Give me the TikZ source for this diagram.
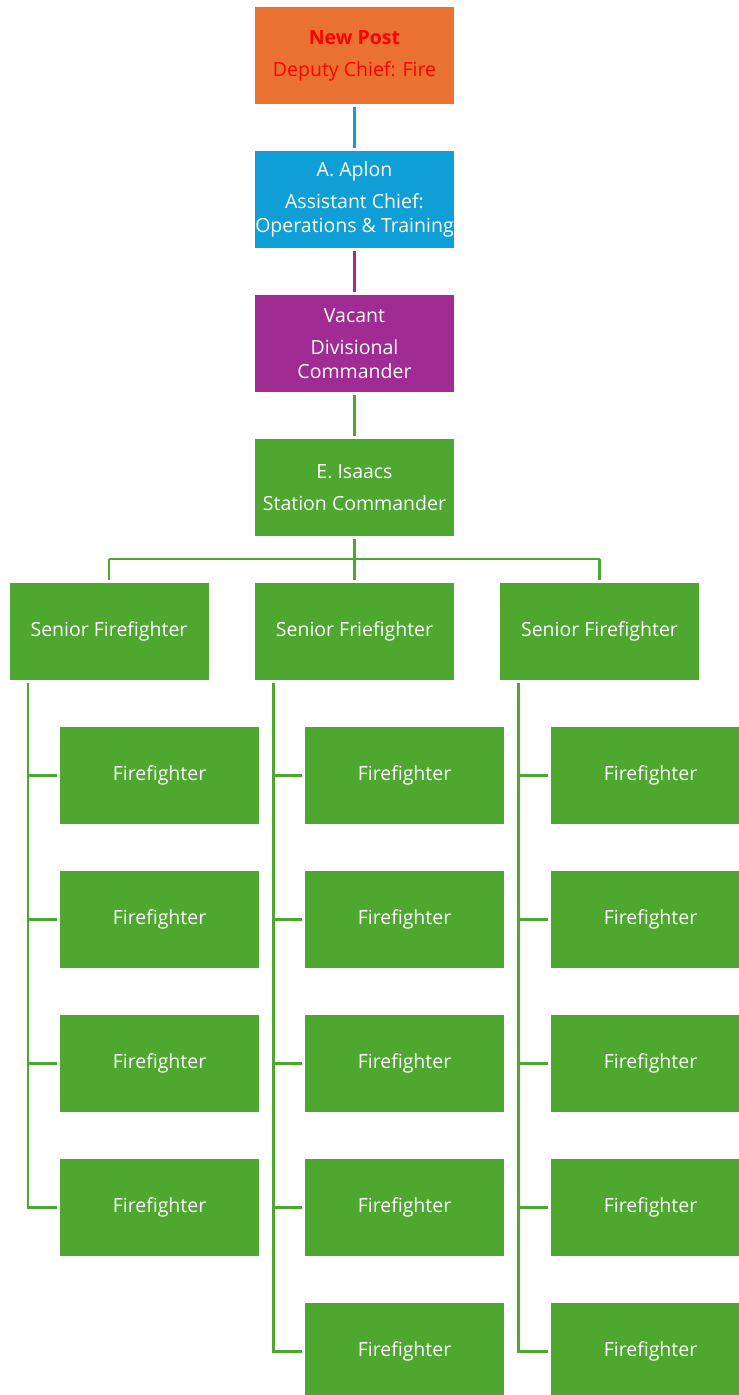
\documentclass[tikz,border=0pt]{standalone}
\usepackage{fontspec}
\setmainfont{Open Sans}
\definecolor{orgbox}{HTML}{E97132}
\definecolor{bluebox}{HTML}{0F9ED5}
\definecolor{purplebox}{HTML}{A02B93}
\definecolor{greenbox}{HTML}{4EA72E}
\definecolor{redtext}{HTML}{FF0000}
\begin{document}
\begin{tikzpicture}[x=1pt,y=-1pt,
  box/.style={draw=none, minimum width=199pt, minimum height=97pt, inner sep=0pt,
    text=white, align=center, font=\fontsize{19.5}{24}\selectfont},
  conn/.style={line width=2.5pt}]
\useasboundingbox (0,0) rectangle (739,1395);
\clip (0,0) rectangle (739,1395);
% top chain
\node[box, fill=orgbox, text=redtext] (top) at (354.5,55.5) {\textbf{New Post}\\[8pt]Deputy Chief: Fire};
\node[box, fill=bluebox] (aplon) at (354.5,199.5) {A. Aplon\\[8pt]Assistant Chief:\\Operations \& Training};
\node[box, fill=purplebox] (vacant) at (354.5,343.5) {Vacant\\[8pt]Divisional\\Commander};
\node[box, fill=greenbox] (isaacs) at (354.5,487.5) {E. Isaacs\\[8pt]Station Commander};
\draw[conn, draw=bluebox, shorten <=3pt, shorten >=3pt] (top.south) -- (aplon.north);
\draw[conn, draw=purplebox, shorten <=3pt, shorten >=3pt] (aplon.south) -- (vacant.north);
\draw[conn, draw=greenbox, shorten <=3pt, shorten >=3pt] (vacant.south) -- (isaacs.north);
% senior firefighters
\node[box, fill=greenbox] (s1) at (109,631.5) {Senior Firefighter};
\node[box, fill=greenbox] (s2) at (354.5,631.5) {Senior Friefighter};
\node[box, fill=greenbox] (s3) at (599.5,631.5) {Senior Firefighter};
\coordinate (bus) at (0,559);
\draw[conn, draw=greenbox, shorten <=3pt] (isaacs.south) -- (isaacs.south |- bus);
\draw[conn, draw=greenbox] (s1.north |- bus) -- (s3.north |- bus);
\draw[conn, draw=greenbox, shorten >=3pt] (s1.north |- bus) -- (s1.north);
\draw[conn, draw=greenbox, shorten >=3pt] (s2.north |- bus) -- (s2.north);
\draw[conn, draw=greenbox, shorten >=3pt] (s3.north |- bus) -- (s3.north);
% firefighters
\foreach \c/\x/\n in {1/159.5/4, 2/404.5/5, 3/650.5/5}{
  \foreach \r/\y in {1/775.5, 2/919.5, 3/1063.5, 4/1207.5, 5/1351.5}{
    \ifnum\r>\n\else
      \node[box, fill=greenbox] (f\c\r) at (\x,\y) {Firefighter};
    \fi
  }
}
\foreach \c/\n in {1/4, 2/5, 3/5}{
  \coordinate (sp\c) at ([xshift=18.5pt]s\c.south west);
  \draw[conn, draw=greenbox, shorten <=3pt, shorten >=3pt] (sp\c) |- (f\c\n.west);
  \foreach \r in {1,...,\n}{
    \draw[conn, draw=greenbox, shorten >=3pt] (sp\c |- f\c\r.west) -- (f\c\r.west);
  }
}
\end{tikzpicture}
\end{document}
